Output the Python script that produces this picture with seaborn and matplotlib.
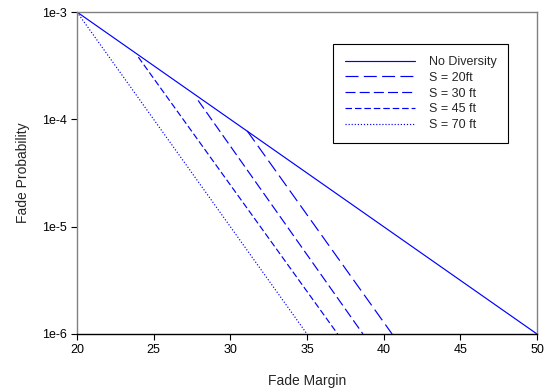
import matplotlib
matplotlib.use("Agg")
import matplotlib.pyplot as plt
import matplotlib.ticker as mticker
import numpy as np
import pandas as pd
import seaborn as sns

# Fade probability vs. fade margin for space-diversity reception
series_names = ["No Diversity", "S = 20ft", "S = 30 ft", "S = 45 ft", "S = 70 ft"]
margin_db = [
    [20.0, 50.0],
    [31.1, 40.55],
    [27.9, 38.65],
    [24.0, 37.0],
    [20.0, 35.0],
]
fade_prob = [
    [1e-3, 1e-6],
    [7.8e-5, 1e-6],
    [1.5e-4, 1e-6],
    [3.8e-4, 1e-6],
    [1e-3, 1e-6],
]
x_ticks = [20, 25, 30, 35, 40, 45, 50]
y_ticks = [1e-6, 1e-5, 1e-4, 1e-3]
y_tick_labels = ["1e-6", "1e-5", "1e-4", "1e-3"]

rows = []
for name, xs, ys in zip(series_names, margin_db, fade_prob):
    for xv, yv in zip(xs, ys):
        rows.append({"series": name, "margin": xv, "prob": yv})
df = pd.DataFrame(rows)

sns.set_theme(style="white")
plt.rcParams["font.family"] = ["Liberation Sans", "DejaVu Sans"]

fig = plt.figure(figsize=(5.46, 3.90), dpi=100)
ax = fig.add_axes([0.141, 0.1436, 0.8425, 0.8256])

dash_styles = {
    "No Diversity": "",
    "S = 20ft": (11, 4.5),
    "S = 30 ft": (8.5, 3.5),
    "S = 45 ft": (5.5, 2.5),
    "S = 70 ft": (1, 1.6),
}

sns.lineplot(data=df, x="margin", y="prob", style="series",
             style_order=series_names, dashes=dash_styles,
             color="#0000ff", linewidth=0.85, ax=ax, legend=True,
             estimator=None, sort=False)

ax.set_yscale("log")
ax.set_xlim(20, 50)
ax.set_ylim(1e-6, 1e-3)
ax.set_xticks(x_ticks)
ax.set_yticks(y_ticks)
ax.yaxis.set_major_formatter(mticker.FixedFormatter(y_tick_labels))
ax.yaxis.set_minor_locator(mticker.NullLocator())
ax.tick_params(axis="both", which="major", direction="out", length=4,
               width=0.8, colors="black", labelsize=9, pad=3)
ax.tick_params(axis="both", bottom=True, left=True)

for side in ["left", "top", "right"]:
    ax.spines[side].set_color("#808080")
    ax.spines[side].set_linewidth(1.0)
ax.spines["bottom"].set_color("black")
ax.spines["bottom"].set_linewidth(1.0)

ax.set_xlabel("Fade Margin", fontsize=10, labelpad=13)
ax.set_ylabel("Fade Probability", fontsize=10, labelpad=9)

handles, labels = ax.get_legend_handles_labels()
leg = ax.legend(handles, labels, loc="upper left",
                bbox_to_anchor=(0.557, 0.90), borderaxespad=0,
                fontsize=9, handlelength=5.6, handletextpad=1.1,
                labelspacing=0.3, borderpad=0.95, fancybox=False,
                frameon=True, edgecolor="black", framealpha=1)
leg.get_frame().set_linewidth(0.8)

fig.savefig("out.png", dpi=100)
